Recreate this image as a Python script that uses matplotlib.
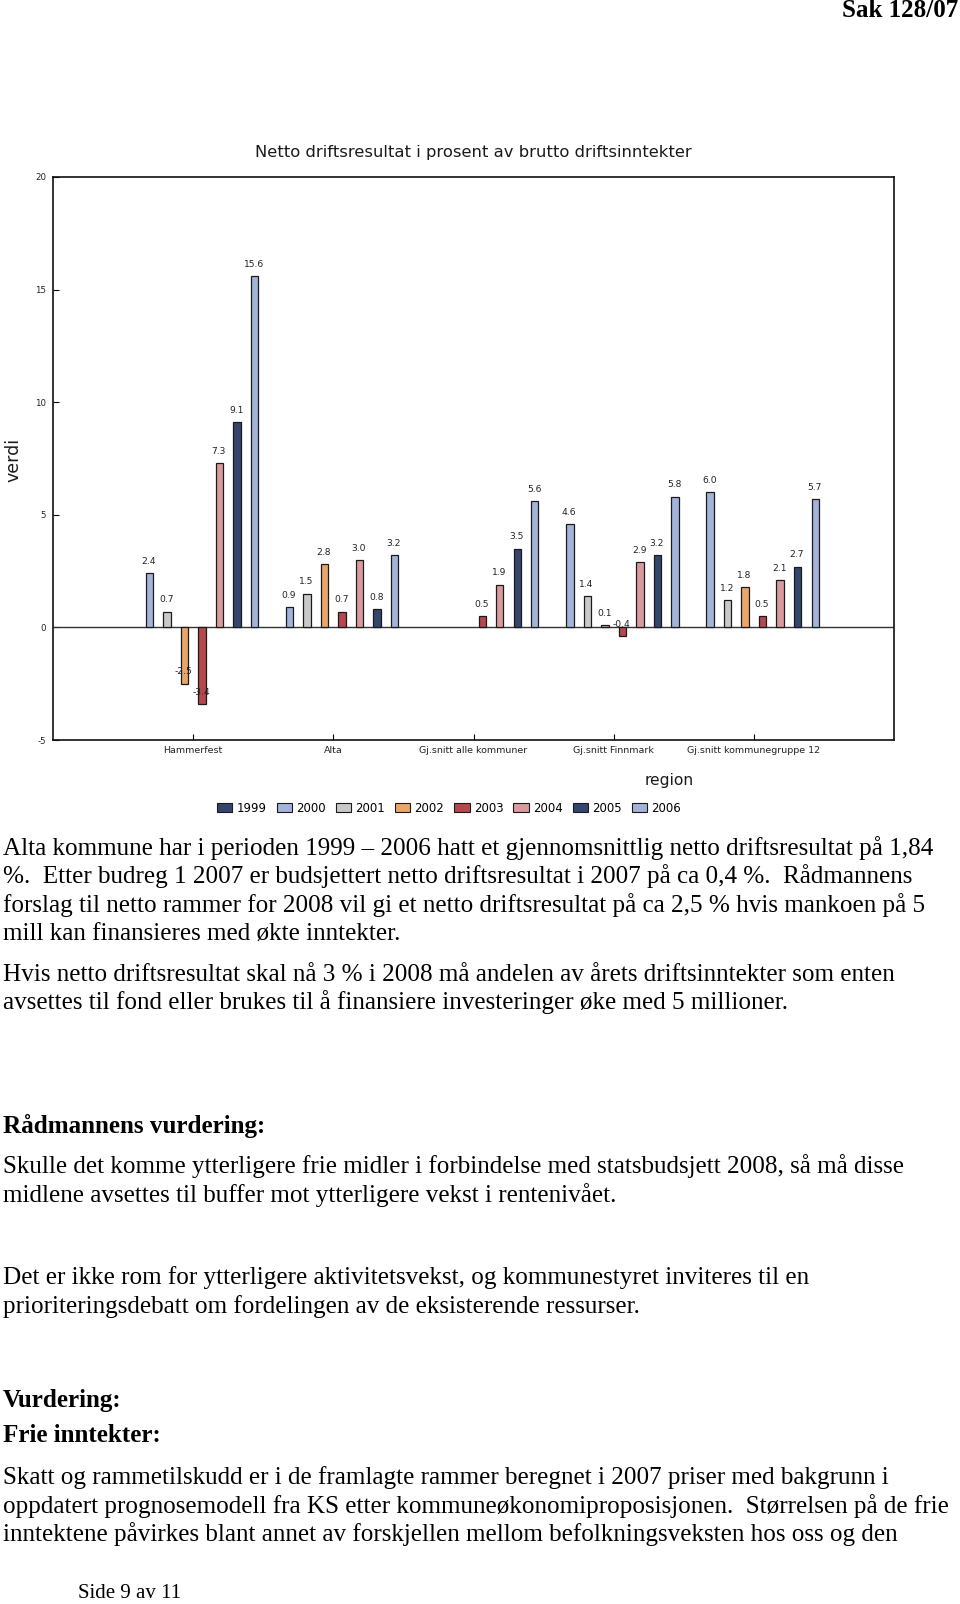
import numpy as np
import matplotlib
matplotlib.use("Agg")
import matplotlib.pyplot as plt
from matplotlib.patches import Patch

plt.rcParams["axes.unicode_minus"] = False

# ---------------- data ----------------
regions = ["Hammerfest", "Alta", "Gj.snitt alle kommuner", "Gj.snitt Finnmark",
           "Gj.snitt kommunegruppe 12"]
years = ["1999", "2000", "2001", "2002", "2003", "2004", "2005", "2006"]
nan = np.nan
v1999 = [nan, nan, nan, nan, nan]
v2000 = [2.4, 0.9, nan, 4.6, 6.0]
v2001 = [0.7, 1.5, nan, 1.4, 1.2]
v2002 = [-2.5, 2.8, nan, 0.1, 1.8]
v2003 = [-3.4, 0.7, 0.5, -0.4, 0.5]
v2004 = [7.3, 3.0, 1.9, 2.9, 2.1]
v2005 = [9.1, 0.8, 3.5, 3.2, 2.7]
v2006 = [15.6, 3.2, 5.6, 5.8, 5.7]
series = [v1999, v2000, v2001, v2002, v2003, v2004, v2005, v2006]
colors = ["#34466e", "#a3b3d9", "#c9c9c9", "#e8a66a", "#b5474d", "#d99a9e",
          "#34466e", "#a3b3d9"]

title = "Netto driftsresultat i prosent av brutto driftsinntekter"
ylabel = "verdi"
xlabel = "region"

body_lines = [
    ("Alta kommune har i perioden 1999 \u2013 2006 hatt et gjennomsnittlig netto driftsresultat på 1,84", 854.5, False),
    ("%.  Etter budreg 1 2007 er budsjettert netto driftsresultat i 2007 på ca 0,4 %.  Rådmannens", 883, False),
    ("forslag til netto rammer for 2008 vil gi et netto driftsresultat på ca 2,5 % hvis mankoen på 5", 911.7, False),
    ("mill kan finansieres med økte inntekter.", 940.4, False),
    ("Hvis netto driftsresultat skal nå 3 % i 2008 må andelen av årets driftsinntekter som enten", 981, False),
    ("avsettes til fond eller brukes til å finansiere investeringer øke med 5 millioner.", 1009.5, False),
    ("Rådmannens vurdering:", 1132.5, True),
    ("Skulle det komme ytterligere frie midler i forbindelse med statsbudsjett 2008, så må disse", 1173.5, False),
    ("midlene avsettes til buffer mot ytterligere vekst i rentenivået.", 1202, False),
    ("Det er ikke rom for ytterligere aktivitetsvekst, og kommunestyret inviteres til en", 1284, False),
    ("prioriteringsdebatt om fordelingen av de eksisterende ressurser.", 1312.7, False),
    ("Vurdering:", 1407, True),
    ("Frie inntekter:", 1442, True),
    ("Skatt og rammetilskudd er i de framlagte rammer beregnet i 2007 priser med bakgrunn i", 1484, False),
    ("oppdatert prognosemodell fra KS etter kommuneøkonomiproposisjonen.  Størrelsen på de frie", 1512.5, False),
    ("inntektene påvirkes blant annet av forskjellen mellom befolkningsveksten hos oss og den", 1541, False),
]

# ---------------- figure ----------------
W, H = 960, 1604
fig = plt.figure(figsize=(W / 100, H / 100), dpi=100)

def fx(px):
    return px / W

def fy(py):
    return 1 - py / H

ax_l, ax_r, ax_t, ax_b = 53, 894, 177, 740
ax = fig.add_axes([fx(ax_l), fy(ax_b), (ax_r - ax_l) / W, (ax_b - ax_t) / H])

x = np.arange(len(regions))
n = len(years)
slot = 1.0 / n
bw = 0.052
for i, (vals, c) in enumerate(zip(series, colors)):
    xs = x + (i - (n - 1) / 2) * slot
    ax.bar(xs, vals, width=bw, color=c, edgecolor="#1a1a1a", linewidth=0.9, zorder=3)
    for xi, v in zip(xs, vals):
        if np.isnan(v):
            continue
        ax.annotate(f"{v:.1f}", (xi, v), xytext=(-0.5, 8.5), textcoords="offset points",
                    ha="center", va="center", fontsize=6.6, color="#222222",
                    family="DejaVu Sans", zorder=4)

ax.axhline(0, color="#333333", linewidth=1.0, zorder=2)
ax.set_xlim(-1, 5)
ax.set_ylim(-5, 20)
ax.set_yticks([-5, 0, 5, 10, 15, 20])
ax.set_xticks(x)
ax.set_xticklabels(regions, fontsize=6.8, family="DejaVu Sans", color="#222222")
ax.tick_params(axis="y", direction="in", length=4, width=0.8, labelsize=6.2, pad=5,
               labelcolor="#222222")
ax.tick_params(axis="x", direction="in", length=4, width=0.8, pad=4)
for s in ax.spines.values():
    s.set_linewidth(1.2)
    s.set_color("#111111")

fig.text(fx(473), fy(152), title, ha="center", va="center", fontsize=11.8,
         family="DejaVu Sans", color="#1a1a1a")
fig.text(fx(13), fy(460), ylabel, rotation=90, ha="center", va="center",
         fontsize=12.5, family="DejaVu Sans", color="#1a1a1a")
fig.text(fx(669), fy(781), xlabel, ha="center", va="center", fontsize=11.2,
         family="DejaVu Sans", color="#1a1a1a")

handles = [Patch(facecolor=c, edgecolor="#1a1a1a", linewidth=0.8) for c in colors]
fig.legend(handles, years, loc="center", bbox_to_anchor=(fx(449), fy(808)),
           ncol=8, frameon=False, handlelength=1.3, handleheight=0.8,
           handletextpad=0.35, columnspacing=0.85,
           prop={"family": "DejaVu Sans", "size": 8.5})

# ---------------- page text ----------------
fig.text(fx(958), fy(17), "Sak 128/07", ha="right", va="baseline", fontsize=18,
         family="Liberation Serif", weight="bold")
for txt, yb, bold in body_lines:
    fig.text(fx(3), fy(yb), txt, ha="left", va="baseline", fontsize=18.1,
             family="Liberation Serif", weight="bold" if bold else "normal")
fig.text(fx(78), fy(1598), "Side 9 av 11", ha="left", va="baseline", fontsize=15,
         family="Liberation Serif")

fig.savefig("out.png", dpi=100)
